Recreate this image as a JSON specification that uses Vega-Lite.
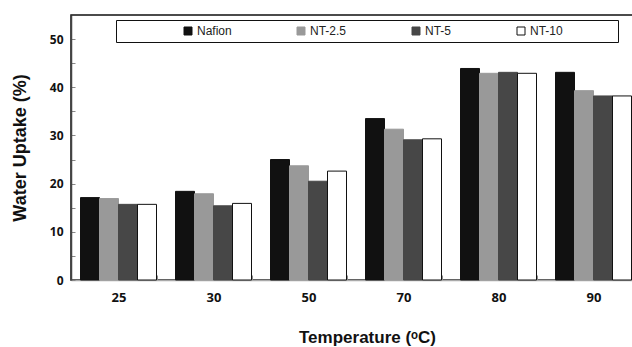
{
  "$schema": "https://vega.github.io/schema/vega-lite/v6.json",
  "autosize": "none",
  "padding": {"left": 71, "top": 15, "right": 0, "bottom": 67},
  "width": 570,
  "height": 265,
  "background": "white",
  "config": {
    "font": "Open Sans",
    "view": {"stroke": "#111", "strokeWidth": 1.5},
    "axis": {"grid": false, "labelFont": "Open Sans", "titleFont": "Liberation Sans", "labelColor": "#111", "titleColor": "#111"}
  },
  "data": {
    "values": [
      {"temp": "25", "sample": "Nafion", "uptake": 17.1},
      {"temp": "25", "sample": "NT-2.5", "uptake": 16.9},
      {"temp": "25", "sample": "NT-5", "uptake": 15.7},
      {"temp": "25", "sample": "NT-10", "uptake": 15.7},
      {"temp": "30", "sample": "Nafion", "uptake": 18.4},
      {"temp": "30", "sample": "NT-2.5", "uptake": 17.9},
      {"temp": "30", "sample": "NT-5", "uptake": 15.4},
      {"temp": "30", "sample": "NT-10", "uptake": 15.9},
      {"temp": "50", "sample": "Nafion", "uptake": 25.0},
      {"temp": "50", "sample": "NT-2.5", "uptake": 23.7},
      {"temp": "50", "sample": "NT-5", "uptake": 20.5},
      {"temp": "50", "sample": "NT-10", "uptake": 22.6},
      {"temp": "70", "sample": "Nafion", "uptake": 33.5},
      {"temp": "70", "sample": "NT-2.5", "uptake": 31.3},
      {"temp": "70", "sample": "NT-5", "uptake": 29.1},
      {"temp": "70", "sample": "NT-10", "uptake": 29.3},
      {"temp": "80", "sample": "Nafion", "uptake": 43.9},
      {"temp": "80", "sample": "NT-2.5", "uptake": 42.9},
      {"temp": "80", "sample": "NT-5", "uptake": 43.1},
      {"temp": "80", "sample": "NT-10", "uptake": 42.9},
      {"temp": "90", "sample": "Nafion", "uptake": 43.1},
      {"temp": "90", "sample": "NT-2.5", "uptake": 39.3},
      {"temp": "90", "sample": "NT-5", "uptake": 38.2},
      {"temp": "90", "sample": "NT-10", "uptake": 38.2}
    ]
  },
  "mark": {"type": "bar", "strokeWidth": 1},
  "encoding": {
    "x": {
      "field": "temp", "type": "nominal", "sort": ["25", "30", "50", "70", "80", "90"],
      "scale": {"paddingInner": 0.2, "paddingOuter": 0.1},
      "axis": {
        "title": "Temperature (ᵒC)", "titleFontSize": 17, "titleFontWeight": "bold", "titlePadding": 25,
        "titleX": 296, "titleAlign": "center",
        "labelAngle": 0, "labelFontSize": 13, "labelFontWeight": "bold", "labelPadding": 16,
        "tickBand": "extent", "tickSize": -5, "tickColor": "#888", "domainColor": "#aaa", "domainWidth": 1.5
      }
    },
    "xOffset": {"field": "sample", "type": "nominal", "sort": ["Nafion", "NT-2.5", "NT-5", "NT-10"], "scale": {"paddingInner": 0, "paddingOuter": 0}},
    "y": {
      "field": "uptake", "type": "quantitative",
      "scale": {"domain": [0, 55], "nice": false},
      "axis": {
        "title": "Water Uptake (%)", "titleFontSize": 18, "titleFontWeight": "bold", "titlePadding": 20,
        "values": [0, 5, 10, 15, 20, 25, 30, 35, 40, 45, 50],
        "labelExpr": "datum.value % 10 == 0 ? datum.label : ''",
        "labelFontSize": 12, "labelFontWeight": "bold", "labelPadding": 12,
        "tickSize": -4, "tickColor": "#888", "domainColor": "#444", "domainWidth": 1.5
      }
    },
    "fill": {
      "field": "sample", "type": "nominal", "sort": ["Nafion", "NT-2.5", "NT-5", "NT-10"],
      "scale": {"domain": ["Nafion", "NT-2.5", "NT-5", "NT-10"], "range": ["#111111", "#999999", "#474747", "#ffffff"]},
      "legend": {
        "orient": "none", "legendX": 45, "legendY": 5, "direction": "horizontal", "columns": 4,
        "gridAlign": "none", "columnPadding": 63,
        "title": " ", "titleOrient": "left", "titlePadding": 61, "titleFontSize": 12, "titleFont": "Liberation Sans",
        "symbolType": "square", "symbolSize": 64, "symbolStrokeWidth": 1, "symbolStrokeColor": "#111",
        "labelFont": "Liberation Sans", "labelFontSize": 12, "labelColor": "#222", "labelOffset": 3,
        "labelExpr": "datum.label == 'NT-10' ? 'NT-10\u00a0\u00a0\u00a0\u00a0\u00a0\u00a0\u00a0\u00a0\u00a0\u00a0\u00a0\u00a0\u00a0\u00a0\u00a0\u200b' : datum.label",
        "strokeColor": "#111", "padding": 5, "fillColor": "white"
      }
    },
    "stroke": {
      "field": "sample", "type": "nominal", "sort": ["Nafion", "NT-2.5", "NT-5", "NT-10"],
      "scale": {"domain": ["Nafion", "NT-2.5", "NT-5", "NT-10"], "range": ["#111111", "#999999", "#474747", "#111111"]},
      "legend": null
    }
  }
}
